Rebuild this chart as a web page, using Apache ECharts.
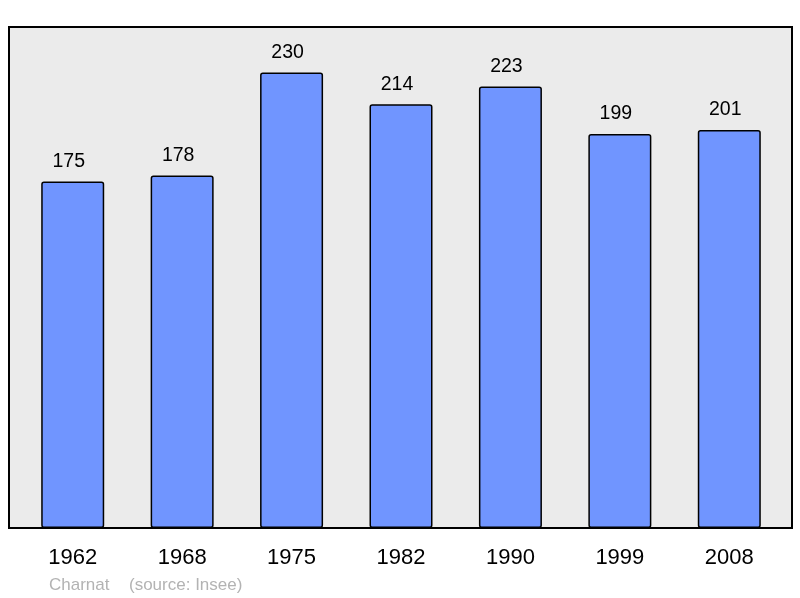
<!DOCTYPE html>
<html>
<head>
<meta charset="utf-8">
<script src="https://cdn.jsdelivr.net/npm/echarts@6/dist/echarts.min.js"></script>
<style>
html,body{margin:0;padding:0;background:#fff;}
#c{width:800px;height:598px;}
</style>
</head>
<body>
<div id="c"></div>
<script>
const years = ['1962','1968','1975','1982','1990','1999','2008'];
const population = [175, 178, 230, 214, 223, 199, 201];
const commune = 'Charnat';
const source = '(source: Insee)';

const chart = echarts.init(document.getElementById('c'), null, {renderer:'canvas'});
chart.setOption({
  animation: false,
  backgroundColor: '#ffffff',
  textStyle: { fontFamily: 'Liberation Sans, Arial, sans-serif' },
  grid: [
    { left: 9, right: 8, top: 27, bottom: 70, show: true, backgroundColor: '#ebebeb', borderColor: '#000', borderWidth: 2, z: 0 },
    { left: 18, right: 16, top: 27, bottom: 70 }
  ],
  xAxis: [
    { gridIndex: 0, type: 'value', show: false, min: 0, max: 1 },
    { gridIndex: 1, type: 'category', data: years,
      axisLine: { show: false }, axisTick: { show: false },
      axisLabel: { fontSize: 22, color: '#000', margin: 19, fontFamily: 'Liberation Sans, Arial, sans-serif' } }
  ],
  yAxis: [
    { gridIndex: 0, type: 'value', show: false, min: 0, max: 1 },
    { gridIndex: 1, type: 'value', min: 0, max: 253, show: false, splitLine: { show: false } }
  ],
  series: [{
    type: 'bar',
    xAxisIndex: 1, yAxisIndex: 1,
    data: population,
    barWidth: 63,
    itemStyle: { color: '#7095ff', borderColor: '#000', borderWidth: 1.5, borderRadius: 2 },
    label: { show: true, position: 'top', distance: 10, offset: [-4, 0], fontSize: 19.5, color: '#000', fontFamily: 'Liberation Sans, Arial, sans-serif' }
  }],
  graphic: [
    { type: 'text', left: 49, top: 577, style: { text: commune, fontSize: 17, fill: '#b3b3b3', fontFamily: 'Liberation Sans, Arial, sans-serif' } },
    { type: 'text', left: 129, top: 577, style: { text: source, fontSize: 17, fill: '#b3b3b3', fontFamily: 'Liberation Sans, Arial, sans-serif' } }
  ]
});
</script>
</body>
</html>
